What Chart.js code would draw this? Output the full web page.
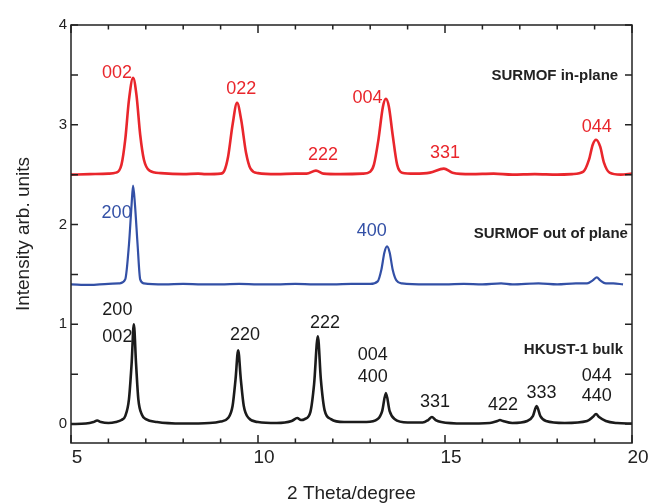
<!DOCTYPE html>
<html>
<head>
<meta charset="utf-8">
<script src="https://cdn.jsdelivr.net/npm/chart.js@4/dist/chart.umd.min.js"></script>
<style>
html,body{margin:0;padding:0;background:#fff;}
#wrap{width:651px;height:503px;}
</style>
</head>
<body>
<div id="wrap"><canvas id="c" width="651" height="503"></canvas></div>
<script>
// ---- Data ----
const bulkX = [5.0,5.4,5.6,5.7,5.8,6.0,6.2,6.35,6.45,6.55,6.62,6.68,6.74,6.80,6.9,7.0,7.3,8.0,8.7,9.0,9.2,9.32,9.40,9.47,9.54,9.62,9.75,10.0,10.5,10.9,11.05,11.15,11.25,11.4,11.5,11.6,11.68,11.78,11.95,12.3,12.9,13.2,13.32,13.42,13.52,13.65,14.0,14.4,14.55,14.65,14.75,14.9,15.5,16.2,16.4,16.47,16.55,16.8,17.2,17.35,17.45,17.55,17.7,18.2,18.8,18.95,19.04,19.12,19.3,19.6,20.0];
const bulkY = [0.00,0.005,0.02,0.035,0.02,0.01,0.02,0.04,0.08,0.25,0.6,1.00,0.6,0.25,0.09,0.05,0.02,0.005,0.01,0.025,0.06,0.18,0.45,0.74,0.45,0.18,0.06,0.02,0.01,0.03,0.06,0.04,0.05,0.12,0.4,0.88,0.45,0.14,0.05,0.02,0.02,0.05,0.13,0.31,0.13,0.05,0.015,0.015,0.04,0.07,0.04,0.02,0.005,0.01,0.03,0.04,0.03,0.01,0.03,0.08,0.18,0.08,0.03,0.01,0.03,0.07,0.10,0.07,0.03,0.01,0.005];

const outX = [5.0,5.5,6.0,6.3,6.45,6.55,6.62,6.66,6.71,6.78,6.85,6.95,7.5,8.0,8.5,9.0,9.5,10.0,10.5,11.0,11.5,12.0,12.5,13.0,13.2,13.3,13.38,13.45,13.52,13.6,13.7,13.85,14.5,15.0,15.5,16.0,16.5,16.8,17.5,18.0,18.5,18.8,18.95,19.06,19.15,19.3,19.5,19.76];
const outY = [1.40,1.395,1.405,1.41,1.45,1.8,2.2,2.39,2.2,1.8,1.45,1.41,1.40,1.405,1.40,1.40,1.405,1.40,1.40,1.405,1.40,1.40,1.405,1.405,1.43,1.55,1.72,1.78,1.72,1.55,1.44,1.41,1.40,1.40,1.405,1.40,1.41,1.40,1.41,1.40,1.41,1.41,1.44,1.47,1.44,1.41,1.41,1.40];

const inX = [5.0,5.5,6.0,6.2,6.35,6.45,6.55,6.66,6.75,6.85,6.95,7.1,7.4,8.0,8.4,8.6,9.0,9.1,9.2,9.32,9.44,9.55,9.68,9.8,10.0,10.5,11.0,11.3,11.55,11.75,12.2,12.8,13.0,13.1,13.22,13.34,13.42,13.5,13.6,13.72,13.85,14.2,14.6,14.97,15.2,15.7,16.3,16.8,17.4,18.0,18.4,18.7,18.85,18.95,19.04,19.15,19.25,19.4,19.7,20.0];
const inY = [2.50,2.505,2.51,2.52,2.6,2.85,3.25,3.47,3.3,2.9,2.65,2.54,2.515,2.505,2.51,2.505,2.51,2.54,2.68,3.0,3.22,3.05,2.72,2.56,2.515,2.505,2.51,2.51,2.54,2.51,2.505,2.51,2.53,2.6,2.85,3.18,3.26,3.18,2.9,2.6,2.52,2.51,2.52,2.56,2.52,2.505,2.51,2.50,2.505,2.50,2.505,2.53,2.65,2.8,2.85,2.78,2.62,2.52,2.50,2.51];

const xTicks = [5,10,15,20];
const yTicks = [0,1,2,3,4];

// peak labels: [text, x, y]
const inPlaneLabels = [["002",6.23,3.52],["022",9.55,3.36],["222",11.74,2.70],["004",12.93,3.27],["331",15.0,2.72],["044",19.06,2.98]];
const outPlaneLabels = [["200",6.22,2.115],["400",13.04,1.93]];
const bulkLabels = [["200",6.24,1.14],["002",6.24,0.873],["220",9.65,0.89],["222",11.79,1.015],["004",13.07,0.69],["400",13.07,0.473],["331",14.73,0.223],["422",16.55,0.19],["333",17.58,0.313],["044",19.06,0.48],["440",19.06,0.28]];
const seriesNames = [["SURMOF in-plane",19.63,3.49],["SURMOF out of plane",19.89,1.91],["HKUST-1 bulk",19.76,0.74]];

const RED = '#e9262c', BLUE = '#3350a6', BLACK = '#1b1b1b';
const FONT = '"Liberation Sans", Arial, Helvetica, sans-serif';

function pts(xs, ys){ return xs.map((x,i)=>({x:x, y:ys[i]})); }

const overlay = {
  id:'overlay',
  afterDatasetsDraw(chart){
    const ctx = chart.ctx, xs = chart.scales.x, ys = chart.scales.y, a = chart.chartArea;
    ctx.save();
    // frame
    ctx.strokeStyle = '#222'; ctx.lineWidth = 1.5;
    ctx.strokeRect(a.left, a.top, a.right - a.left, a.bottom - a.top);
    // x ticks (inward, top & bottom)
    for (let v = 5; v <= 20; v++) {
      const px = xs.getPixelForValue(v);
      const len = (v % 5 === 0) ? 8 : 4.5;
      ctx.beginPath();
      ctx.moveTo(px, a.bottom); ctx.lineTo(px, a.bottom - len);
      ctx.moveTo(px, a.top); ctx.lineTo(px, a.top + len);
      ctx.stroke();
    }
    // y ticks (inward, left & right)
    for (let v = 0; v <= 4; v += 0.5) {
      const py = ys.getPixelForValue(v);
      ctx.beginPath();
      ctx.moveTo(a.left, py); ctx.lineTo(a.left + 7, py);
      ctx.moveTo(a.right, py); ctx.lineTo(a.right - 7, py);
      ctx.stroke();
    }
    // labels
    ctx.textAlign = 'center'; ctx.textBaseline = 'middle';
    ctx.font = '18px ' + FONT;
    ctx.fillStyle = RED;
    inPlaneLabels.forEach(l => ctx.fillText(l[0], xs.getPixelForValue(l[1]), ys.getPixelForValue(l[2])));
    ctx.fillStyle = BLUE;
    outPlaneLabels.forEach(l => ctx.fillText(l[0], xs.getPixelForValue(l[1]), ys.getPixelForValue(l[2])));
    ctx.fillStyle = BLACK;
    bulkLabels.forEach(l => ctx.fillText(l[0], xs.getPixelForValue(l[1]), ys.getPixelForValue(l[2])));
    ctx.textAlign = 'right';
    ctx.font = 'bold 15px ' + FONT;
    ctx.fillStyle = '#222';
    seriesNames.forEach(l => ctx.fillText(l[0], xs.getPixelForValue(l[1]), ys.getPixelForValue(l[2])));
    ctx.restore();
  }
};

new Chart(document.getElementById('c'), {
  type: 'line',
  data: {
    datasets: [
      {label:'SURMOF in-plane', data: pts(inX,inY), borderColor: RED, borderWidth: 2.6},
      {label:'SURMOF out of plane', data: pts(outX,outY), borderColor: BLUE, borderWidth: 2.2},
      {label:'HKUST-1 bulk', data: pts(bulkX,bulkY), borderColor: BLACK, borderWidth: 2.6}
    ]
  },
  options: {
    responsive: false,
    animation: false,
    events: [],
    elements: { point: { radius: 0 }, line: { cubicInterpolationMode: 'monotone', fill: false } },
    layout: { padding: { top: 25, right: 19, left: 0, bottom: 0 } },
    plugins: { legend: { display: false }, tooltip: { enabled: false } },
    scales: {
      x: {
        type: 'linear', min: 5, max: 20,
        afterBuildTicks(s){ s.ticks = xTicks.map(v => ({value: v})); },
        afterFit(s){ s.height = 60; },
        grid: { display: false, drawTicks: false },
        border: { display: false },
        ticks: { font: { size: 19, family: FONT }, color: '#222', padding: 3, labelOffset: 6, maxRotation: 0 },
        title: { display: true, text: '2 Theta/degree', font: { size: 19, family: FONT, lineHeight: 1 }, color: '#222', padding: { top: 0, bottom: 0 } }
      },
      y: {
        type: 'linear', min: -0.19, max: 4,
        afterBuildTicks(s){ s.ticks = yTicks.map(v => ({value: v})); },
        afterFit(s){ s.width = 71; },
        grid: { display: false, drawTicks: false },
        border: { display: false },
        ticks: { font: { size: 15, family: FONT }, color: '#222', padding: 4 },
        title: { display: true, text: 'Intensity arb. units', font: { size: 19, family: FONT }, color: '#222', padding: { top: 12, bottom: 0 } }
      }
    }
  },
  plugins: [overlay]
});
</script>
</body>
</html>
